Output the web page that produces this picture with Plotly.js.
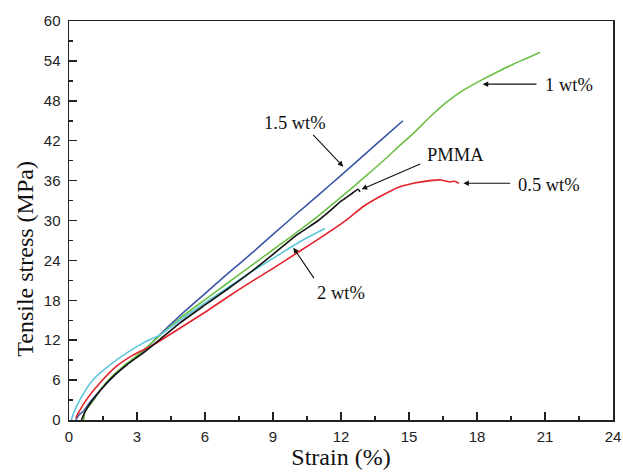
<!DOCTYPE html>
<html>
<head>
<meta charset="utf-8">
<script src="https://cdn.plot.ly/plotly-3.0.1.min.js"></script>
<style>html,body{margin:0;padding:0;background:#fff;}#chart{width:623px;height:472px;}</style>
</head>
<body>
<div id="chart"></div>
<script>
// 1.5 wt%
const blueX = [0.3,0.45,0.6,1.0,1.8,2.5,3.3,4.0,4.9,6,7,8,9,10,11,12,13,14,14.73];
const blueY = [0,0.8,1.2,3.0,6.0,8.2,10.4,12.8,15.7,19.0,22.0,24.9,27.9,30.9,33.8,36.8,39.8,42.8,45.0];
// 1 wt%
const greenX = [0.65,0.7,1.0,1.4,1.8,2.55,3.3,4.0,4.9,6,7,8,9,9.6,10,11,12,13,14,14.5,15.19,15.93,16.66,17.4,18.13,18.87,19.6,20.2,20.78];
const greenY = [0,1.2,2.6,4.6,6.2,8.5,10.5,12.7,15.3,18.1,20.6,23.1,25.6,27.1,28.1,30.7,33.5,36.4,39.4,41.0,43.1,45.6,47.8,49.6,51.0,52.3,53.5,54.4,55.3];
// PMMA
const blackX = [0.55,0.7,1.07,1.81,2.55,3.28,4.01,4.9,6,7,8,9,10,11,11.5,12,12.5,12.75,12.84];
const blackY = [0,1.2,3.1,6.1,8.3,10.1,12.1,14.6,17.3,19.7,22.2,24.9,27.7,30.0,31.4,32.9,34.1,34.7,34.3];
// 2 wt%
const cyanX = [0.1,0.2,0.49,1.07,1.81,2.55,3.28,4.01,4.9,5.48,6.96,8,9,9.75,10.5,11.29];
const cyanY = [0,1.0,3.1,6.1,8.3,10.1,11.6,12.8,15.0,16.4,19.8,22.2,24.3,25.9,27.4,28.8];
// 0.5 wt%
const redX = [0.3,0.4,0.78,1.37,2.1,2.84,3.72,4.75,6,7,8,9,10,11,12.25,12.98,13.72,14.46,15.19,15.93,16.4,16.8,17.0,17.2];
const redY = [0.3,1.0,3.1,5.6,8.1,9.8,11.3,13.5,16.2,18.5,20.7,22.8,25.0,27.2,30.1,32.1,33.6,34.9,35.6,36.0,36.1,35.8,35.9,35.6];

const labels = ['1.5 wt%','1 wt%','PMMA','2 wt%','0.5 wt%'];
const xTicks = [0,3,6,9,12,15,18,21,24];
const yTicks = [0,6,12,18,24,30,36,42,48,54,60];

const lw = 1.6;
function tr(x, y, c, n){
  return {x:x, y:y, mode:'lines', line:{color:c, width:lw, shape:'spline', smoothing:0.6}, name:n};
}
const traces = [
  tr(blueX, blueY, '#3b55a6', labels[0]),
  tr(greenX, greenY, '#6cbf45', labels[1]),
  tr(cyanX, cyanY, '#5ec6dc', labels[3]),
  tr(redX, redY, '#e5222b', labels[4]),
  tr(blackX, blackY, '#111111', labels[2])
];

const serif = "'Liberation Serif', 'Times New Roman', Times, serif";
const sans = "'Liberation Sans', Arial, Helvetica, sans-serif";
const tf = {family:serif, size:18.5, color:'#111'};
function arrow(hx, hy, tx, ty){
  return {x:hx, y:hy, ax:tx, ay:ty, axref:'x', ayref:'y', xref:'x', yref:'y', text:'',
          showarrow:true, arrowhead:2, arrowsize:1, arrowwidth:1.1, arrowcolor:'#111', standoff:0, startstandoff:0};
}
function label(t, x, y){
  return {x:x, y:y, xref:'x', yref:'y', text:t, showarrow:false, font:tf, xanchor:'center', yanchor:'middle'};
}
const annotations = [
  arrow(12.10,38.1,10.71,43.1), label(labels[0], 9.97, 44.7),
  arrow(18.25,50.5,20.69,50.5), label(labels[1], 22.06, 50.4),
  arrow(12.91,34.7,15.56,38.6), label(labels[2], 17.03, 39.9),
  arrow(17.40,35.6,19.53,35.6), label(labels[4], 21.18, 35.4),
  arrow(9.90,25.9,10.85,21.1), label(labels[3], 12.0, 19.1),
  {xref:'paper', yref:'paper', x:-0.081, y:0.404, text:'Tensile stress (MPa)', textangle:-90,
   showarrow:false, xanchor:'center', yanchor:'middle', font:{family:serif, size:24, color:'#111'}}
];

const axisCommon = {
  showgrid:false, zeroline:false, showline:true, linecolor:'#222', linewidth:1.5, mirror:true,
  ticks:'inside', ticklen:8, tickwidth:1.5, tickcolor:'#222',
  tickfont:{family:sans, size:15, color:'#222'}
};

const layout = {
  width:623, height:472,
  margin:{l:69, r:10, t:21, b:52},
  paper_bgcolor:'#fff', plot_bgcolor:'#fff',
  showlegend:false,
  xaxis: Object.assign({}, axisCommon, {
    range:[0,24], tickvals:xTicks, ticktext:xTicks.map(String),
    minor:{ticks:'inside', ticklen:4, tickwidth:1.5, tickcolor:'#222', dtick:1.5, tick0:0},
    ticklabelstandoff:2,
    title:{text:'Strain (%)', font:{family:serif, size:24, color:'#111'}, standoff:2}
  }),
  yaxis: Object.assign({}, axisCommon, {
    range:[0,60], tickvals:yTicks, ticktext:yTicks.map(String),
    minor:{ticks:'inside', ticklen:4, tickwidth:1.5, tickcolor:'#222', dtick:3, tick0:0},
    ticklabelstandoff:4
  }),
  annotations: annotations
};

Plotly.newPlot('chart', traces, layout, {displayModeBar:false, staticPlot:true});
</script>
</body>
</html>
